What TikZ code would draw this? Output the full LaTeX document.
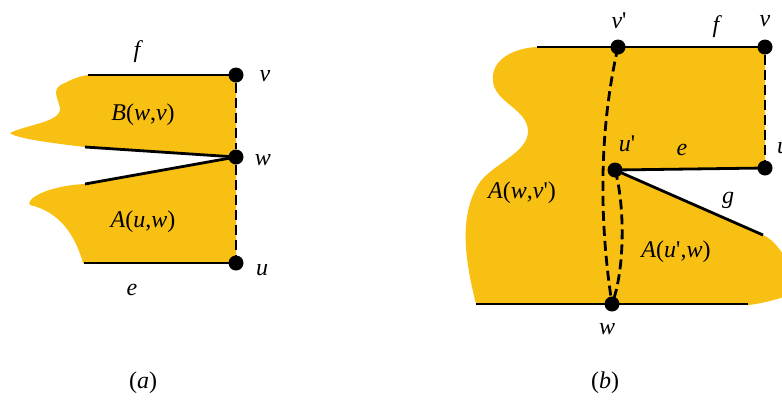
\documentclass[tikz,border=0pt]{standalone}
\usepackage{fontspec}
\setmainfont{Liberation Serif}
\definecolor{fillyel}{RGB}{249,192,20}
\newcommand{\prm}{\textup{\textquotesingle}}
\begin{document}
\begin{tikzpicture}[x=1pt,y=-1pt,
  edge/.style={line width=2.8pt,black},
  dsh/.style={line width=2.8pt,black,dash pattern=on 10pt off 5pt},
  dot/.style={circle,fill=black,inner sep=0pt,minimum size=15pt},
  lbl/.style={font=\fontsize{24}{28}\selectfont\itshape,inner sep=0pt},
  captxt/.style={font=\fontsize{24}{28}\selectfont,inner sep=0pt}]
\useasboundingbox (0,0) rectangle (782,400);
% ---------- panel (a) ----------
\fill[fillyel] (88,75) -- (236,75) -- (236,157) -- (85,147)
  .. controls (50,143) and (15,138) .. (10,133)
  .. controls (25,125) and (62,122) .. (60,108)
  .. controls (58,98) and (50,88) .. (65,83)
  .. controls (72,79) and (80,76) .. (88,75) -- cycle;
\fill[fillyel] (85,184) -- (236,157) -- (236,263) -- (83,263)
  .. controls (75,235) and (60,212) .. (30,205)
  .. controls (25,200) and (45,186) .. (85,184) -- cycle;
\node[dot] (av) at (236,75) {};
\node[dot] (aw) at (236,157) {};
\node[dot] (au) at (236,263) {};
\coordinate (af) at (88,75);
\coordinate (ae) at (84,263);
\coordinate (ab1) at (85,147);
\coordinate (ab2) at (85,184);
\draw[edge] (af) -- (av.center);
\draw[edge] (ae) -- (au.center);
\draw[edge] (ab1) -- (aw.center);
\draw[edge] (ab2) -- (aw.center);
\draw[dsh] (av) -- (aw);
\draw[dsh] (aw) -- (au);
\node[lbl] (lf) at (137,52) {f};
\node[lbl] (lv) at (265,76) {v};
\node[lbl] (lw) at (263,160) {w};
\node[lbl] (lu) at (262,270) {u};
\node[lbl] (le) at (132,290) {e};
\node[lbl] (lB) at (143,115) {B\textup{(}w\textup{,}v\textup{)}};
\node[lbl] (lA) at (143,222) {A\textup{(}u\textup{,}w\textup{)}};
\node[captxt] (capa) at (143,383) {(\textit{a})};
% ---------- panel (b) ----------
\fill[fillyel] (537,47) -- (765,47) -- (765,168) -- (615,170) -- (763,235)
  .. controls (775,240) and (785,255) .. (790,270) -- (790,295)
  .. controls (775,300) and (760,304) .. (748,305) -- (476,304)
  .. controls (465,260) and (458,215) .. (480,182)
  .. controls (495,162) and (535,150) .. (527,125)
  .. controls (520,105) and (490,100) .. (493,75)
  .. controls (495,58) and (515,48) .. (537,47) -- cycle;
\node[dot] (bvp) at (618,47) {};
\node[dot] (bv) at (765,47) {};
\node[dot] (bu) at (765,168) {};
\node[dot] (bup) at (615,170) {};
\node[dot] (bw) at (612,304) {};
\coordinate (btl) at (537,47);
\coordinate (bbl) at (476,304);
\coordinate (bbr) at (748,304);
\coordinate (bg) at (763,235);
\draw[edge] (btl) -- (bvp.center) -- (bv.center);
\draw[edge] (bup.center) -- (bu.center);
\draw[edge] (bup.center) -- (bg);
\draw[edge] (bbl) -- (bw.center) -- (bbr);
\draw[dsh] (bv) -- (bu);
\draw[dsh] (bvp.center) .. controls (599,130) and (599,220) .. (bw.center);
\draw[dsh] (bup.center) .. controls (625,205) and (625,270) .. (bw.center);
\node[lbl] (mvp) at (619,21) {v\prm};
\node[lbl] (mf) at (716,27) {f};
\node[lbl] (mv) at (765,21) {v};
\node[lbl] (mup) at (627,144) {u\prm};
\node[lbl] (me) at (682,150) {e};
\node[lbl] (mu) at (783,148) {u};
\node[lbl] (mg) at (728,200) {g};
\node[lbl] (mw) at (607,329) {w};
\node[lbl] (mA1) at (522,193) {A\textup{(}w\textup{,}v\prm\textup{)}};
\node[lbl] (mA2) at (676,252) {A\textup{(}u\prm\textup{,}w\textup{)}};
\node[captxt] (capb) at (605,383) {(\textit{b})};
\end{tikzpicture}
\end{document}
